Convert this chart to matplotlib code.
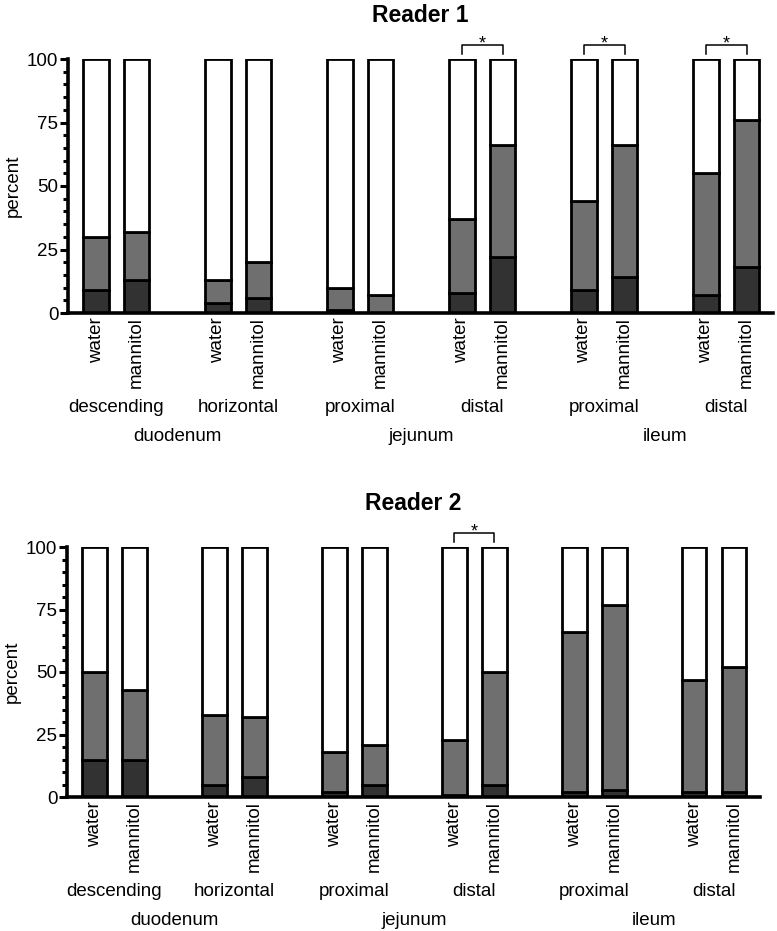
import matplotlib
matplotlib.use('Agg')
import matplotlib.pyplot as plt
from matplotlib.ticker import MultipleLocator
import numpy as np

plt.rcParams['font.family'] = ['Liberation Sans', 'DejaVu Sans']

# Data (percent of segments per score)
bar_labels = ["water", "mannitol"] * 6
sub_groups = ["descending", "horizontal", "proximal", "distal", "proximal", "distal"]
main_groups = ["duodenum", "jejunum", "ileum"]

# Reader 1
r1_dark = [9, 13, 4, 6, 1, 0, 8, 22, 9, 14, 7, 18]
r1_mid = [21, 19, 9, 14, 9, 7, 29, 44, 35, 52, 48, 58]
r1_light = [70, 68, 87, 80, 90, 93, 63, 34, 56, 34, 45, 24]
r1_sig = [3, 4, 5]   # subgroup index with a significant difference

# Reader 2
r2_dark = [15, 15, 5, 8, 2, 5, 1, 5, 2, 3, 2, 2]
r2_mid = [35, 28, 28, 24, 16, 16, 22, 45, 64, 74, 45, 50]
r2_light = [50, 57, 67, 68, 82, 79, 77, 50, 34, 23, 53, 48]
r2_sig = [3]

COLORS = {"dark": "#323232", "mid": "#6f6f6f", "light": "#ffffff"}
FS = 13.5


def bar_positions():
    pos = []
    for g in range(6):
        pos += [3 * g, 3 * g + 1]
    return np.array(pos)


def draw_panel(ax, dark, mid, light, title, sig):
    x = bar_positions()
    dark = np.array(dark)
    mid = np.array(mid)
    light = np.array(light)
    kw = dict(width=0.62, edgecolor='black', linewidth=2.0, zorder=2)
    ax.bar(x, dark, color=COLORS["dark"], **kw)
    ax.bar(x, mid, bottom=dark, color=COLORS["mid"], **kw)
    ax.bar(x, light, bottom=dark + mid, color=COLORS["light"], **kw)

    ax.set_xlim(-0.69, 16.65)
    ax.set_ylim(0, 100)
    for s in ['top', 'right']:
        ax.spines[s].set_visible(False)
    for s in ['left', 'bottom']:
        ax.spines[s].set_linewidth(2.6)
        ax.spines[s].set_zorder(3)

    ax.set_yticks([0, 25, 50, 75, 100])
    ax.yaxis.set_minor_locator(MultipleLocator(5))
    ax.tick_params(axis='y', which='major', length=6, width=2.2, labelsize=FS, pad=1)
    ax.tick_params(axis='y', which='minor', length=3.5, width=2.2)
    ax.set_ylabel("percent", fontsize=FS, labelpad=4)

    ax.set_xticks(x)
    ax.set_xticklabels(bar_labels, rotation=90, fontsize=FS, va='top')
    ax.tick_params(axis='x', length=0, pad=3)

    # subgroup and main group labels
    for i, name in enumerate(sub_groups):
        ax.annotate(name, xy=(3 * i + 0.5, 0), xycoords=('data', 'axes fraction'),
                    xytext=(0, -68), textcoords='offset points',
                    ha='center', va='center', fontsize=FS)
    for i, name in enumerate(main_groups):
        ax.annotate(name, xy=(6 * i + 2, 0), xycoords=('data', 'axes fraction'),
                    xytext=(0, -89), textcoords='offset points',
                    ha='center', va='center', fontsize=FS)

    # significance brackets
    for g in sig:
        x0, x1 = 3 * g, 3 * g + 1
        ax.plot([x0, x0, x1, x1], [102, 105.5, 105.5, 102], color='black',
                linewidth=1.1, clip_on=False, zorder=4)
        ax.text((x0 + x1) / 2, 104.3, "*", ha='center', va='baseline',
                fontsize=13, clip_on=False)

    ax.set_title(title, fontsize=16.5, fontweight='bold', pad=27)


fig = plt.figure(figsize=(7.77, 9.31), dpi=100)
ax1 = fig.add_axes([68 / 777, 1 - 313 / 931, 705 / 777, 254 / 931])
ax2 = fig.add_axes([67 / 777, 1 - 797 / 931, 693 / 777, 250 / 931])

draw_panel(ax1, r1_dark, r1_mid, r1_light, "Reader 1", r1_sig)
draw_panel(ax2, r2_dark, r2_mid, r2_light, "Reader 2", r2_sig)

fig.savefig("out.png", dpi=100, facecolor='white')
plt.close(fig)
